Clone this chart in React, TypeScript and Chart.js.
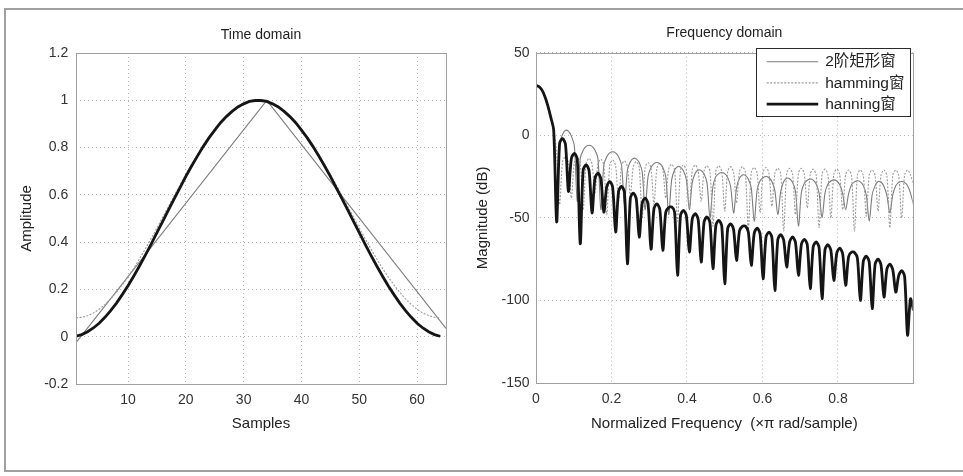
import React, { useEffect, useRef } from 'react';
import { Chart, registerables } from 'chart.js';

Chart.register(...registerables);

const FONT = '"Liberation Sans", Arial, "Noto Sans CJK SC", sans-serif';

// ---------------- Time domain ----------------
const samples = [
  1, 2, 3, 4, 5, 6, 7, 8, 9, 10, 11, 12, 13, 14, 15, 16,
  17, 18, 19, 20, 21, 22, 23, 24, 25, 26, 27, 28, 29, 30, 31, 32,
  33, 34, 35, 36, 37, 38, 39, 40, 41, 42, 43, 44, 45, 46, 47, 48,
  49, 50, 51, 52, 53, 54, 55, 56, 57, 58, 59, 60, 61, 62, 63, 64,
];

const hanningTime = [
  0.002, 0.009, 0.021, 0.037, 0.057, 0.082, 0.110, 0.142, 0.178, 0.216, 0.257, 0.300, 0.345, 0.392, 0.440, 0.488,
  0.536, 0.584, 0.631, 0.678, 0.722, 0.764, 0.804, 0.841, 0.874, 0.905, 0.931, 0.953, 0.972, 0.985, 0.995, 0.999,
  0.999, 0.995, 0.985, 0.972, 0.953, 0.931, 0.905, 0.874, 0.841, 0.804, 0.764, 0.722, 0.678, 0.631, 0.584, 0.536,
  0.488, 0.440, 0.392, 0.345, 0.300, 0.257, 0.216, 0.178, 0.142, 0.110, 0.082, 0.057, 0.037, 0.021, 0.009, 0.002,
];

const hammingTime = [
  0.080, 0.082, 0.089, 0.100, 0.116, 0.136, 0.160, 0.188, 0.219, 0.253, 0.290, 0.330, 0.372, 0.415, 0.460, 0.506,
  0.551, 0.597, 0.642, 0.687, 0.729, 0.770, 0.808, 0.844, 0.877, 0.907, 0.933, 0.954, 0.972, 0.986, 0.995, 0.999,
  0.999, 0.995, 0.986, 0.972, 0.954, 0.933, 0.907, 0.877, 0.844, 0.808, 0.770, 0.729, 0.687, 0.642, 0.597, 0.551,
  0.506, 0.460, 0.415, 0.372, 0.330, 0.290, 0.253, 0.219, 0.188, 0.160, 0.136, 0.116, 0.100, 0.089, 0.082, 0.080,
];

const triangleSamples = [1, 34, 65];
const triangleTime = [-0.025, 1, 0.035];

// ---------------- Frequency domain (dB, sampled every 1/128 of pi rad/sample) ----------------
const FREQ_STEP = 1 / 128;

const hanningDb = [
  30.1, 29.5, 27.5, 23.5, 18, 11, 3, -52.5,
  -5, -2, -5.5, -34,
  -14, -11, -14.5, -65.7,
  -21, -18, -21.5, -47,
  -26, -23, -26.5, -46.5,
  -31, -28, -31.5, -58.6,
  -34, -31, -34.5, -77.8,
  -38, -35, -38.5, -61.6,
  -41, -38, -41.5, -69,
  -44.5, -41.5, -45, -69.7,
  -46.5, -43.8, -43.4, -46.5, -84.8,
  -48.5, -45.5, -48.8, -70.7,
  -50.5, -47.5, -51, -76.8,
  -52.5, -49.5, -53, -80.8,
  -54.5, -51.5, -55, -89.9,
  -56.5, -53.6, -57, -75.8,
  -58, -55.2, -55, -58.5, -78.8,
  -59.3, -56.2, -59.8, -86.9,
  -61.6, -58.6, -62, -94,
  -63.2, -60.2, -63.6, -79.8,
  -64.6, -61.6, -65, -84.8,
  -66, -63, -66.4, -92.9,
  -67.6, -64.6, -68, -99,
  -69.3, -66.3, -69.8, -87.9,
  -71.3, -68.3, -71.8, -90.9,
  -73.5, -70.8, -71, -74.5, -100,
  -76.2, -73.2, -76.8, -105,
  -78, -75, -78.5, -98,
  -81, -78, -81.5, -95,
  -85, -82, -85.5, -121,
  -99, -106,
];

const hammingDb = [
  30.7, 30, 28, 24, 18.5, 11.5, 3, -10, -42,
  -16, -13, -16.5, -38,
  -16.5, -13.5, -17, -45,
  -17, -14, -17.5, -35,
  -17.5, -14.5, -18, -48,
  -18, -15, -18.5, -40,
  -18.5, -15.5, -19, -36,
  -19, -16, -19.5, -50,
  -19.5, -16.5, -20, -42,
  -20, -17, -20.5, -38,
  -20.5, -17.5, -21, -52,
  -21, -18, -21.5, -44,
  -21, -18, -21.5, -40,
  -21.5, -18.5, -22, -55,
  -21.5, -18.5, -22, -46,
  -22, -19, -22.5, -41,
  -22, -19, -22.5, -57,
  -22.5, -19.5, -23, -47,
  -22.5, -19.5, -23, -43,
  -23, -20, -23.5, -58,
  -23, -20, -23.5, -48,
  -23, -20, -23.5, -44,
  -23.5, -20.5, -24, -56,
  -23.5, -20.5, -24, -50,
  -23.5, -20.5, -24, -45,
  -24, -21, -24.5, -58,
  -24, -21, -24.5, -49,
  -24, -21, -24.5, -46,
  -24, -21, -24.5, -56,
  -24, -21, -24.5, -50,
  -24, -21, -24, -30,
];

const triangleDb = [
  30, 29.4, 27.5, 23.5, 18, 11, 2.5, -45,
  -5, 0.5, 3, 2.5, -0.5, -6.5, -40,
  -14, -9, -6.7, -6, -6.7, -9, -14, -45,
  -18, -13, -10.7, -10, -10.7, -13, -18, -42,
  -21, -16, -14, -14.3, -16.5, -22, -45,
  -25, -19.5, -17.2, -16.5, -17.2, -19.5, -25, -48,
  -27, -21, -19, -19.3, -21.5, -27, -45,
  -28.5, -23, -21, -21.3, -23.5, -29, -50,
  -31, -25, -23.2, -22.5, -23.2, -25.5, -31, -47,
  -32, -26, -24, -24.3, -26.5, -32, -52,
  -33, -27.5, -25.7, -25, -25.7, -28, -33.5, -48,
  -34, -28, -26, -26.3, -28.5, -34, -55,
  -34.5, -29, -27.2, -26.5, -27.2, -29.5, -35, -50,
  -35, -29.5, -27.7, -27, -27.7, -30, -35.5, -45,
  -35.5, -30, -28.2, -27.5, -28.2, -30.5, -36, -52,
  -36, -30.5, -28, -28.3, -31, -36.5, -47,
  -36, -30.5, -28.5, -28, -28.5, -30.5, -35, -42,
];

const seriesNames = ['2阶矩形窗', 'hamming窗', 'hanning窗'];
const seriesColors = ['#7c7c7c', '#9a9a9a', '#151515'];
const seriesWidths = [1.1, 1.1, 2.8];
const seriesDashes: number[][] = [[], [2, 1.5], []];

const fmt = (v: any) => String(Math.round(Number(v) * 10) / 10);

const framePlugin = {
  id: 'frameTitle',
  afterDraw(chart: any, _args: any, opts: any) {
    const { ctx, chartArea: ca } = chart;
    ctx.save();
    ctx.strokeStyle = '#a0a0a0';
    ctx.lineWidth = 1;
    ctx.strokeRect(Math.round(ca.left) + 0.5, Math.round(ca.top) + 0.5, Math.round(ca.right - ca.left), Math.round(ca.bottom - ca.top));
    ctx.font = `14px ${FONT}`;
    ctx.fillStyle = '#222';
    ctx.textAlign = 'center';
    ctx.textBaseline = 'middle';
    ctx.fillText(opts.text, (ca.left + ca.right) / 2, opts.y);
    ctx.restore();
  },
};

const legendPlugin = {
  id: 'winLegend',
  afterDraw(chart: any) {
    const { ctx, chartArea: ca } = chart;
    const w = 154;
    const h = 68;
    const right = ca.right - 2.5;
    const top = ca.top - 4.5;
    const left = right - w;
    ctx.save();
    ctx.fillStyle = '#fff';
    ctx.fillRect(left, top, w, h);
    ctx.strokeStyle = '#2a2a2a';
    ctx.lineWidth = 1;
    ctx.strokeRect(Math.round(left) + 0.5, Math.round(top) + 0.5, w, h);
    chart.data.datasets.forEach((ds: any, i: number) => {
      const y = top + 13.5 + i * 21.2;
      ctx.beginPath();
      ctx.strokeStyle = ds.borderColor;
      ctx.lineWidth = ds.borderWidth;
      ctx.setLineDash(ds.borderDash || []);
      ctx.moveTo(left + 10.5, y);
      ctx.lineTo(left + 62, y);
      ctx.stroke();
      ctx.setLineDash([]);
      ctx.font = `15.5px ${FONT}`;
      ctx.fillStyle = '#222';
      ctx.textAlign = 'left';
      ctx.textBaseline = 'middle';
      ctx.fillText(ds.label, left + 69, y + 0.5);
    });
    ctx.restore();
  },
};

function lineSet(i: number, data: { x: number; y: number }[], order: number, tension: number) {
  return {
    label: seriesNames[i],
    data,
    borderColor: seriesColors[i],
    borderWidth: seriesWidths[i],
    borderDash: seriesDashes[i],
    pointRadius: 0,
    tension,
    fill: false,
    order,
  };
}

const tickFont = { size: 14, family: FONT };
const titleFont = { size: 15, family: FONT };
const gridCfg = { color: '#b4b4b4', drawTicks: false, lineWidth: 1 };
const borderCfg = { display: false, dash: [1, 3] };

export default function App() {
  const leftRef = useRef<HTMLCanvasElement>(null);
  const rightRef = useRef<HTMLCanvasElement>(null);

  useEffect(() => {
    const timeChart = new Chart(leftRef.current as HTMLCanvasElement, {
      type: 'line',
      data: {
        datasets: [
          lineSet(0, triangleSamples.map((x, i) => ({ x, y: triangleTime[i] })), 2, 0),
          lineSet(1, samples.map((x, i) => ({ x, y: hammingTime[i] })), 1, 0),
          lineSet(2, samples.map((x, i) => ({ x, y: hanningTime[i] })), 0, 0),
        ],
      } as any,
      options: {
        animation: false,
        responsive: false,
        events: [],
        layout: { padding: { left: 0, right: 24, top: 53, bottom: 0 } },
        plugins: {
          legend: { display: false },
          tooltip: { enabled: false },
          title: { display: false },
          frameTitle: { text: 'Time domain', y: 35 },
        } as any,
        scales: {
          x: {
            type: 'linear',
            min: 1,
            max: 65,
            ticks: { stepSize: 10, includeBounds: false, padding: 8, color: '#333', font: tickFont, maxRotation: 0, autoSkip: false, callback: fmt },
            grid: gridCfg,
            border: borderCfg,
            title: { display: true, text: 'Samples', color: '#222', font: titleFont, padding: { top: 0, bottom: 43 } },
            afterFit: (s: any) => { s.height = 92; },
          },
          y: {
            type: 'linear',
            min: -0.2,
            max: 1.2,
            ticks: { stepSize: 0.2, padding: 7.7, color: '#333', font: tickFont, callback: fmt },
            grid: gridCfg,
            border: borderCfg,
            title: { display: true, text: 'Amplitude', color: '#222', font: titleFont, padding: { top: 18, bottom: 0 } },
            afterFit: (s: any) => { s.width = 76; },
          },
        } as any,
      },
      plugins: [framePlugin],
    });

    const freqs = hanningDb.map((_, i) => i * FREQ_STEP);
    const freqChart = new Chart(rightRef.current as HTMLCanvasElement, {
      type: 'line',
      data: {
        datasets: [
          lineSet(0, freqs.map((x, i) => ({ x, y: triangleDb[i] })), 2, 0.3),
          lineSet(1, freqs.map((x, i) => ({ x, y: hammingDb[i] })), 1, 0.3),
          lineSet(2, freqs.map((x, i) => ({ x, y: hanningDb[i] })), 0, 0.3),
        ],
      } as any,
      options: {
        animation: false,
        responsive: false,
        events: [],
        layout: { padding: { left: 0, right: 50.3, top: 52.7, bottom: 0 } },
        plugins: {
          legend: { display: false },
          tooltip: { enabled: false },
          title: { display: false },
          frameTitle: { text: 'Frequency domain', y: 33 },
        } as any,
        scales: {
          x: {
            type: 'linear',
            min: 0,
            max: 0.998,
            ticks: { stepSize: 0.2, includeBounds: false, padding: 8, color: '#333', font: tickFont, maxRotation: 0, autoSkip: false, callback: fmt },
            grid: gridCfg,
            border: borderCfg,
            title: { display: true, text: 'Normalized Frequency  (×π rad/sample)', color: '#222', font: titleFont, padding: { top: 0, bottom: 43 } },
            afterFit: (s: any) => { s.height = 93; },
          },
          y: {
            type: 'linear',
            min: -150,
            max: 50,
            ticks: { stepSize: 50, padding: 6.5, color: '#333', font: tickFont, callback: fmt },
            grid: gridCfg,
            border: borderCfg,
            title: { display: true, text: 'Magnitude (dB)', color: '#222', font: titleFont, padding: { top: 8.3, bottom: 0 } },
            afterFit: (s: any) => { s.width = 70; },
          },
        } as any,
      },
      plugins: [framePlugin, legendPlugin],
    });

    return () => {
      timeChart.destroy();
      freqChart.destroy();
    };
  }, []);

  return (
    <div style={{ position: 'fixed', left: 0, top: 0, width: 963, height: 476, background: '#fff', overflow: 'hidden' }}>
      <div
        style={{
          position: 'absolute',
          left: 4,
          top: 8,
          right: -4,
          bottom: 4,
          borderTop: '2px solid #a0a0a0',
          borderLeft: '2px solid #a0a0a0',
          borderBottom: '2px solid #a0a0a0',
        }}
      />
      <canvas ref={leftRef} width={470} height={476} style={{ position: 'absolute', left: 0, top: 0, width: 470, height: 476 }} />
      <canvas ref={rightRef} width={497} height={476} style={{ position: 'absolute', left: 466, top: 0, width: 497, height: 476 }} />
    </div>
  );
}
